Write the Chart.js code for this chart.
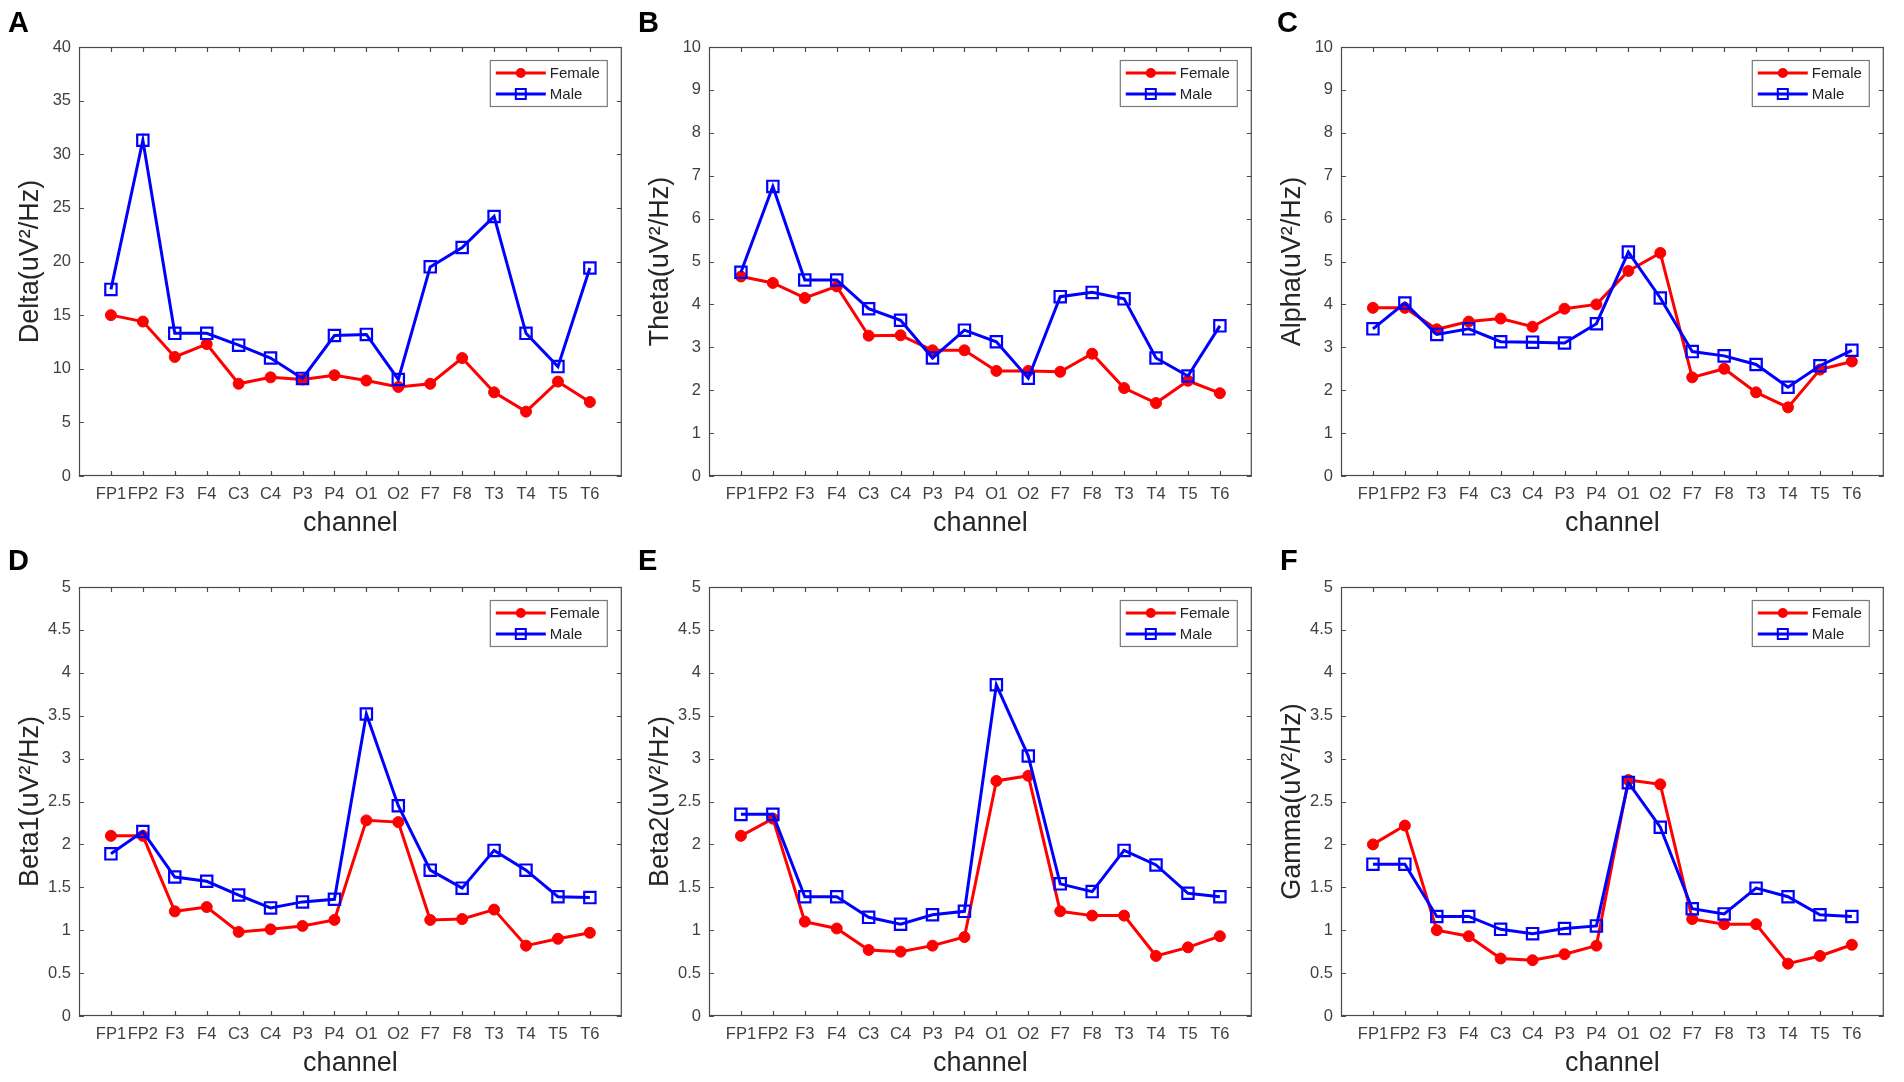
<!DOCTYPE html>
<html><head><meta charset="utf-8">
<script src="https://cdn.jsdelivr.net/npm/chart.js@4.4.0/dist/chart.umd.min.js"></script>
<style>
html,body{margin:0;padding:0;background:#fff;width:1904px;height:1082px;overflow:hidden;}
.panel{position:absolute;}
.panel canvas{display:block;}
.lbl{position:absolute;font-family:'Liberation Sans',Arial,sans-serif;font-weight:bold;font-size:29px;color:#000;line-height:1;}
</style></head><body>
<script>
const channels = ['FP1','FP2','F3','F4','C3','C4','P3','P4','O1','O2','F7','F8','T3','T4','T5','T6'];

const deltaFemale = [15.0,14.4,11.1,12.3,8.6,9.2,9.0,9.4,8.9,8.3,8.6,11.0,7.8,6.0,8.8,6.9];
const deltaMale   = [17.4,31.3,13.3,13.3,12.2,11.0,9.1,13.1,13.2,9.0,19.5,21.3,24.2,13.3,10.2,19.4];

const thetaFemale = [4.65,4.5,4.15,4.42,3.27,3.28,2.93,2.93,2.45,2.45,2.43,2.85,2.05,1.7,2.22,1.93];
const thetaMale   = [4.75,6.75,4.57,4.57,3.9,3.63,2.75,3.4,3.13,2.28,4.18,4.28,4.13,2.75,2.33,3.5];

const alphaFemale = [3.92,3.92,3.42,3.6,3.67,3.48,3.9,4.0,4.78,5.2,2.3,2.5,1.95,1.6,2.48,2.67];
const alphaMale   = [3.43,4.03,3.3,3.43,3.13,3.12,3.1,3.55,5.22,4.15,2.9,2.8,2.6,2.07,2.57,2.93];

const beta1Female = [2.1,2.1,1.22,1.27,0.98,1.01,1.05,1.12,2.28,2.26,1.12,1.13,1.24,0.82,0.9,0.97];
const beta1Male   = [1.89,2.15,1.62,1.57,1.41,1.26,1.33,1.36,3.52,2.45,1.7,1.49,1.93,1.7,1.39,1.38];

const beta2Female = [2.1,2.3,1.1,1.02,0.77,0.75,0.82,0.92,2.74,2.8,1.22,1.17,1.17,0.7,0.8,0.93];
const beta2Male   = [2.35,2.35,1.39,1.39,1.15,1.07,1.18,1.22,3.86,3.03,1.54,1.45,1.93,1.76,1.43,1.39];

const gammaFemale = [2.0,2.22,1.0,0.93,0.67,0.65,0.72,0.82,2.75,2.7,1.13,1.07,1.07,0.61,0.7,0.83];
const gammaMale   = [1.77,1.77,1.16,1.16,1.01,0.96,1.02,1.05,2.72,2.2,1.25,1.19,1.49,1.39,1.18,1.16];

const seriesNames = ['Female','Male'];
const panelLetters = ['A','B','C','D','E','F'];
const yTitles = ['Delta(uV\u00B2/Hz)','Theta(uV\u00B2/Hz)','Alpha(uV\u00B2/Hz)','Beta1(uV\u00B2/Hz)','Beta2(uV\u00B2/Hz)','Gamma(uV\u00B2/Hz)'];
const yMax = [40,10,10,5,5,5];
const yStep = [5,1,1,0.5,0.5,0.5];
const xTitle = 'channel';

const femaleSets = [deltaFemale,thetaFemale,alphaFemale,beta1Female,beta2Female,gammaFemale];
const maleSets = [deltaMale,thetaMale,alphaMale,beta1Male,beta2Male,gammaMale];

const FONT = "'Liberation Sans', Arial, sans-serif";
const RED = '#ff0000', BLUE = '#0000ff';

// layout geometry (positions only)
const colX = [0, 630, 1262];
const rowY = [0, 540];
const letterPos = [[8,8],[638,8],[1277,8],[8,546],[638,546],[1280,546]];
const CW = 632, CH = 540;
const PLOT_LEFT = 79, PLOT_TOP = 47, PLOT_BOTTOM = 476, RIGHT_PAD = 1;

const framePlugin = {
  id: 'matlabFrame',
  afterDraw(chart) {
    const {ctx, chartArea: a, scales} = chart;
    ctx.save();
    ctx.strokeStyle = '#4a4a4a';
    ctx.lineWidth = 1.2;
    ctx.strokeRect(a.left + 0.5, a.top + 0.5, a.right - a.left - 1, a.bottom - a.top - 1);
    const tl = 5;
    ctx.beginPath();
    scales.x.ticks.forEach(t => {
      const px = Math.round(scales.x.getPixelForValue(t.value)) + 0.5;
      ctx.moveTo(px, a.bottom); ctx.lineTo(px, a.bottom - tl);
      ctx.moveTo(px, a.top); ctx.lineTo(px, a.top + tl);
    });
    scales.y.ticks.forEach(t => {
      const py = Math.round(scales.y.getPixelForValue(t.value)) + 0.5;
      ctx.moveTo(a.left, py); ctx.lineTo(a.left + tl, py);
      ctx.moveTo(a.right, py); ctx.lineTo(a.right - tl, py);
    });
    ctx.stroke();

    // legend
    const bw = 118, bh = 47;
    const bx = a.right - 14 - bw, by = a.top + 13;
    ctx.fillStyle = '#fff';
    ctx.fillRect(bx, by, bw, bh);
    ctx.strokeStyle = '#7a7a7a';
    ctx.lineWidth = 1.2;
    ctx.strokeRect(bx + 0.5, by + 0.5, bw - 1, bh - 1);
    const rows = [by + 13, by + 34];
    chart.data.datasets.forEach((ds, i) => {
      const y = rows[i];
      ctx.strokeStyle = ds.borderColor;
      ctx.lineWidth = 3;
      ctx.beginPath(); ctx.moveTo(bx + 6, y); ctx.lineTo(bx + 56, y); ctx.stroke();
      const mx = bx + 31;
      if (ds.pointStyle === 'circle') {
        ctx.fillStyle = ds.borderColor;
        ctx.beginPath(); ctx.arc(mx, y, 5, 0, Math.PI * 2); ctx.fill();
      } else {
        ctx.lineWidth = 2;
        ctx.strokeRect(mx - 5, y - 5, 10, 10);
      }
      ctx.fillStyle = '#222';
      ctx.font = '15px ' + FONT;
      ctx.textBaseline = 'middle';
      ctx.textAlign = 'left';
      ctx.fillText(ds.label, bx + 60, y + 1);
    });
    ctx.restore();
  }
};

Chart.defaults.font.family = FONT;
Chart.defaults.animation = false;

for (let p = 0; p < 6; p++) {
  const col = p % 3, row = Math.floor(p / 3);
  const wrap = document.createElement('div');
  wrap.className = 'panel';
  wrap.style.left = colX[col] + 'px';
  wrap.style.top = rowY[row] + 'px';
  wrap.style.width = CW + 'px';
  wrap.style.height = CH + 'px';
  const cv = document.createElement('canvas');
  cv.width = CW;
  cv.height = CH;
  cv.style.width = CW + 'px';
  cv.style.height = CH + 'px';
  wrap.appendChild(cv);
  document.body.appendChild(wrap);

  const lbl = document.createElement('div');
  lbl.className = 'lbl';
  lbl.textContent = panelLetters[p];
  lbl.style.left = letterPos[p][0] + 'px';
  lbl.style.top = letterPos[p][1] + 'px';
  document.body.appendChild(lbl);

  const toPts = arr => arr.map((v, i) => ({x: i + 1, y: v}));

  new Chart(cv, {
    type: 'line',
    data: {
      datasets: [
        {label: seriesNames[0], data: toPts(femaleSets[p]), borderColor: RED, backgroundColor: RED,
         borderWidth: 3, pointStyle: 'circle', pointRadius: 5.5, pointBackgroundColor: RED,
         pointBorderColor: RED, pointBorderWidth: 1, tension: 0, order: 1},
        {label: seriesNames[1], data: toPts(maleSets[p]), borderColor: BLUE, backgroundColor: BLUE,
         borderWidth: 3, pointStyle: 'rect', pointRadius: 8, pointBackgroundColor: 'rgba(0,0,0,0)',
         pointBorderColor: BLUE, pointBorderWidth: 2.2, tension: 0, order: 0}
      ]
    },
    options: {
      responsive: false,
      maintainAspectRatio: false,
      devicePixelRatio: 1,
      animation: false,
      events: [],
      layout: {padding: {top: PLOT_TOP, right: RIGHT_PAD, left: 0, bottom: 0}},
      plugins: {legend: {display: false}, tooltip: {enabled: false}},
      scales: {
        x: {
          type: 'linear', min: 0, max: channels.length + 1,
          afterBuildTicks: s => { s.ticks = channels.map((c, i) => ({value: i + 1})); },
          afterFit: s => { s.height = CH - PLOT_BOTTOM; s.paddingLeft = 0; s.paddingRight = 0; },
          grid: {display: false, drawTicks: false},
          border: {display: false},
          ticks: {autoSkip: false, maxRotation: 0, minRotation: 0, padding: 9,
                  color: '#404040', font: {size: 16.5},
                  callback: v => channels[Math.round(v) - 1] || ''},
          title: {display: true, text: xTitle, color: '#262626', font: {size: 27}, padding: {top: 0, bottom: 0}}
        },
        y: {
          type: 'linear', min: 0, max: yMax[p],
          afterFit: s => { s.width = PLOT_LEFT; s.paddingTop = 0; s.paddingBottom = 0; },
          grid: {display: false, drawTicks: false},
          border: {display: false},
          ticks: {stepSize: yStep[p], padding: 8, color: '#404040', font: {size: 16.5},
                  callback: v => String(v)},
          title: {display: true, text: yTitles[p], color: '#262626', font: {size: 27}, padding: {top: 14, bottom: 0}}
        }
      }
    },
    plugins: [framePlugin]
  });
}
</script>
</body></html>
